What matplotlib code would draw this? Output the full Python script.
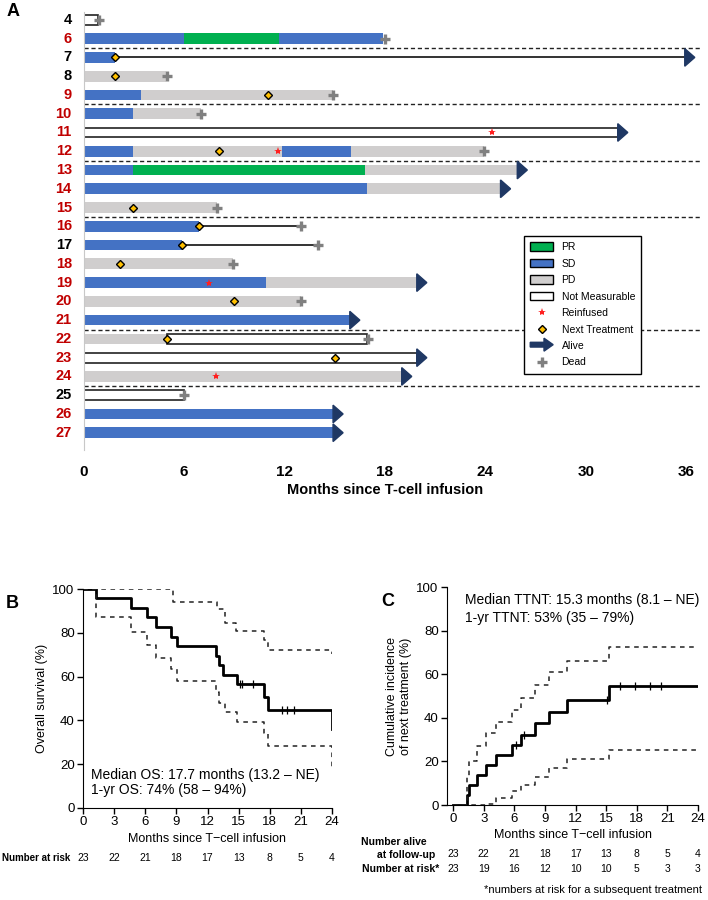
import numpy as np
import matplotlib.pyplot as plt
import matplotlib.patches as mpatches
import matplotlib.transforms as mtransforms
from matplotlib.lines import Line2D
from matplotlib.legend_handler import HandlerPatch

plt.rcParams['font.family'] = ['Liberation Sans', 'DejaVu Sans']

# ---------------- Panel A: swimmer plot data (months) ----------------
patients = ['4', '6', '7', '8', '9', '10', '11', '12', '13', '14', '15', '16',
            '17', '18', '19', '20', '21', '22', '23', '24', '25', '26', '27']
black_ids = ['4', '7', '8', '17', '25']
separators = ['6', '9', '12', '15', '21', '24']

# (patient, start, end, response)
segments = [
    ('4', 0, 0.85, 'NM'),
    ('6', 0, 6.0, 'SD'), ('6', 6.0, 11.7, 'PR'), ('6', 11.7, 17.9, 'SD'),
    ('7', 0, 1.9, 'SD'),
    ('8', 0, 4.9, 'PD'),
    ('9', 0, 3.45, 'SD'), ('9', 3.45, 14.9, 'PD'),
    ('10', 0, 2.95, 'SD'), ('10', 2.95, 7.0, 'PD'),
    ('11', 0, 31.9, 'NM'),
    ('12', 0, 2.95, 'SD'), ('12', 2.95, 11.85, 'PD'), ('12', 11.85, 16.0, 'SD'), ('12', 16.0, 23.9, 'PD'),
    ('13', 0, 2.95, 'SD'), ('13', 2.95, 16.8, 'PR'), ('13', 16.8, 25.9, 'PD'),
    ('14', 0, 16.9, 'SD'), ('14', 16.9, 24.9, 'PD'),
    ('15', 0, 8.0, 'PD'),
    ('16', 0, 6.9, 'SD'),
    ('17', 0, 5.9, 'SD'),
    ('18', 0, 8.9, 'PD'),
    ('19', 0, 10.9, 'SD'), ('19', 10.9, 19.9, 'PD'),
    ('20', 0, 13.0, 'PD'),
    ('21', 0, 15.9, 'SD'),
    ('22', 0, 5.0, 'PD'), ('22', 5.0, 16.9, 'NM'),
    ('23', 0, 19.9, 'NM'),
    ('24', 0, 19.0, 'PD'),
    ('25', 0, 6.0, 'NM'),
    ('26', 0, 14.9, 'SD'),
    ('27', 0, 14.9, 'SD'),
]
followup = [('7', 1.9, 35.9), ('16', 6.9, 13.0), ('17', 5.9, 14.0)]
next_tx = [('7', 1.9), ('8', 1.9), ('9', 11.0), ('12', 8.1), ('15', 2.95), ('16', 6.9),
           ('17', 5.9), ('18', 2.2), ('20', 9.0), ('22', 5.0), ('23', 15.0)]
reinfused = [('11', 24.4), ('12', 11.6), ('19', 7.5), ('24', 7.9)]
dead = [('4', 0.93), ('6', 18.0), ('8', 5.0), ('9', 14.9), ('10', 7.0), ('12', 23.9),
        ('15', 8.0), ('16', 13.0), ('17', 14.0), ('18', 8.9), ('20', 13.0), ('22', 17.0), ('25', 6.0)]
alive = [('7', 35.9), ('11', 31.9), ('13', 25.9), ('14', 24.9), ('19', 19.9), ('21', 15.9),
         ('23', 19.9), ('24', 19.0), ('26', 14.9), ('27', 14.9)]

# ---------------- Panel B: overall survival ----------------
os_t = [0, 1.25, 4.6, 6.2, 7.0, 8.5, 9.1, 12.8, 13.1, 13.5, 14.8, 17.4, 17.8, 24]
os_s = [100, 95.7, 91.3, 87.0, 82.6, 78.3, 73.9, 69.6, 65.2, 60.9, 56.5, 50.8, 44.7, 35.9]
os_up_t = [0, 8.7, 12.9, 13.7, 14.7, 17.4, 17.8, 24]
os_up = [100, 94.2, 90.9, 84.6, 80.8, 76.7, 72.2, 70.2]
os_lo_t = [0, 1.25, 4.6, 6.2, 7.0, 8.5, 9.1, 12.8, 13.1, 13.7, 14.8, 17.4, 17.8, 24]
os_lo = [100, 87.4, 80.5, 74.4, 68.3, 63.3, 58.0, 53.1, 48.1, 44.0, 39.4, 34.1, 28.3, 18.9]
os_cens = [15.1, 15.3, 16.4, 19.2, 19.7, 20.3]
b_risk = [23, 22, 21, 18, 17, 13, 8, 5, 4]

# ---------------- Panel C: time to next treatment ----------------
nt_t = [0, 1.4, 1.6, 2.3, 3.2, 4.2, 5.75, 6.7, 8.0, 9.4, 11.2, 15.3, 24]
nt_c = [0, 4.5, 9.2, 13.8, 18.4, 23.0, 27.4, 32.3, 37.5, 42.6, 48.0, 54.4, 54.4]
nt_up_t = [0, 1.4, 1.6, 2.3, 3.2, 4.2, 5.75, 6.7, 8.0, 9.4, 11.2, 15.3, 24]
nt_up = [0, 13.0, 20.4, 27.0, 33.0, 38.3, 43.7, 49.3, 55.2, 60.8, 66.2, 72.3, 72.3]
nt_lo_t = [0, 3.3, 4.25, 5.75, 6.7, 8.0, 9.4, 11.2, 15.3, 24]
nt_lo = [0, 0.5, 3.2, 6.6, 9.3, 12.7, 17.0, 21.0, 25.4, 25.4]
nt_cens = [6.2, 6.9, 15.1, 16.4, 17.8, 19.25, 20.4]
c_alive = [23, 22, 21, 18, 17, 13, 8, 5, 4]
c_risk = [23, 19, 16, 12, 10, 10, 5, 3, 3]

colors = {'PR': '#00b050', 'SD': '#4472c4', 'PD': '#d0cece', 'NM': 'white'}
navy = '#1f3864'
red = '#c00000'

fig = plt.figure(figsize=(7.08, 9.0), dpi=100)

# ================= Panel A =================
ax = fig.add_axes([83.5 / 708, 0.5, 618 / 708, 438 / 900])
row = {p: i for i, p in enumerate(patients)}
bh = 0.57

for pid, s, e, st in segments:
    if st == 'NM':
        ax.barh(row[pid], e - s, left=s, height=0.52, color='white', edgecolor='#222222', linewidth=1.2, zorder=2)
    else:
        ax.barh(row[pid], e - s, left=s, height=bh, color=colors[st], linewidth=0, zorder=2)

for pid, s, e in followup:
    ax.plot([s, e], [row[pid], row[pid]], color='#333333', lw=1.4, zorder=3)

for pid, x in alive:
    y = row[pid]
    ax.add_patch(mpatches.Polygon([(x, y - 0.47), (x, y + 0.47), (x + 0.6, y)], closed=True,
                                  color=navy, zorder=4))

for pid, x in dead:
    ax.plot(x, row[pid], marker='+', ms=7.5, mew=2.4, color='#808080', zorder=5)

for pid, x in next_tx:
    ax.plot(x, row[pid], marker='D', ms=4.5, mfc='#ffc000', mec='black', mew=1, zorder=6)

for pid, x in reinfused:
    ax.plot(x, row[pid], marker='*', ms=6, color='#ff2020', mew=0, zorder=6)

for pid in separators:
    ax.axhline(row[pid] + 0.5, color='#222222', lw=1, ls=(0, (3, 2)), zorder=1)

for pid in patients:
    ax.text(-0.7, row[pid], pid, ha='right', va='center', fontsize=10.5, fontweight='bold',
            color='black' if pid in black_ids else red)

ax.set_xlim(0, 36.9)
ax.set_ylim(22.92, -0.42)
ax.set_yticks([])
ax.set_xticks(range(0, 37, 6))
ax.tick_params(axis='x', length=0, labelsize=11, pad=11)
for lbl in ax.get_xticklabels():
    lbl.set_fontweight('bold')
for sp in ['top', 'right', 'bottom']:
    ax.spines[sp].set_visible(False)
ax.spines['left'].set_color('#c8c8c8')
ax.set_xlabel('Months since T-cell infusion', fontsize=10.5, fontweight='bold')
ax.xaxis.set_label_coords(18 / 36.9, -0.075)


def make_arrow(legend, orig_handle, xdescent, ydescent, width, height, fontsize):
    return mpatches.FancyArrow(0, height / 2, width, 0, width=height * 0.55, head_width=height * 1.5,
                               head_length=width * 0.4, length_includes_head=True, color=navy)


handles = [
    mpatches.Patch(facecolor=colors['PR'], edgecolor='black', label='PR'),
    mpatches.Patch(facecolor=colors['SD'], edgecolor='black', label='SD'),
    mpatches.Patch(facecolor=colors['PD'], edgecolor='black', label='PD'),
    mpatches.Patch(facecolor='white', edgecolor='black', label='Not Measurable'),
    Line2D([], [], marker='*', ms=6, color='#ff2020', mew=0, ls='none', label='Reinfused'),
    Line2D([], [], marker='D', ms=4.5, mfc='#ffc000', mec='black', ls='none', label='Next Treatment'),
    mpatches.FancyArrow(0, 0, 1, 0, color=navy, label='Alive'),
    Line2D([], [], marker='+', ms=7.5, mew=2.4, color='#808080', ls='none', label='Dead'),
]
leg = fig.legend(handles=handles, loc='upper left', bbox_to_anchor=(524 / 708, 1 - 236 / 900),
                 fontsize=7.5, frameon=True, fancybox=False, edgecolor='black', framealpha=1,
                 handlelength=2.2, handleheight=0.9, labelspacing=0.62, borderpad=0.6,
                 borderaxespad=0,
                 handler_map={mpatches.FancyArrow: HandlerPatch(patch_func=make_arrow)})
leg.get_frame().set_linewidth(1)

fig.text(13 / 708, 1 - 11 / 900, 'A', fontsize=13, fontweight='bold', ha='center', va='center')

# ================= Panel B =================
axb = fig.add_axes([83 / 708, 1 - 808 / 900, 249 / 708, 219 / 900])
axb.step(os_t, os_s, where='post', color='black', lw=2)
axb.step(os_up_t, os_up, where='post', color='#222222', lw=1.1, ls=(0, (3, 3)))
axb.step(os_lo_t, os_lo, where='post', color='#222222', lw=1.1, ls=(0, (3, 3)))
cens_y = [os_s[np.searchsorted(os_t, c, side='right') - 1] for c in os_cens]
axb.plot(os_cens, cens_y, ls='none', marker='|', ms=6, mew=0.9, color='black')
axb.set_xlim(0, 24)
axb.set_ylim(0, 100)
axb.set_xticks(range(0, 25, 3))
axb.set_yticks(range(0, 101, 20))
axb.tick_params(labelsize=9.5, length=4, width=1, pad=2)
for sp in ['top', 'right']:
    axb.spines[sp].set_visible(False)
axb.set_xlabel('Months since T\u2212cell infusion', fontsize=9, labelpad=3)
axb.set_ylabel('Overall survival (%)', fontsize=9, labelpad=3)
axb.text(0.8, 15, 'Median OS: 17.7 months (13.2 \u2013 NE)', fontsize=10, va='center')
axb.text(0.8, 8, '1-yr OS: 74% (58 \u2013 94%)', fontsize=10, va='center')

trb = mtransforms.blended_transform_factory(axb.transData, fig.transFigure)
for x, n in zip(range(0, 25, 3), b_risk):
    axb.text(x, 1 - 858 / 900, str(n), transform=trb, ha='center', va='center', fontsize=7.5)
fig.text(70 / 708, 1 - 858 / 900, 'Number at risk', ha='right', va='center', fontsize=7, fontweight='bold')
fig.text(12 / 708, 1 - 604 / 900, 'B', fontsize=13, fontweight='bold', ha='center', va='center')

# ================= Panel C =================
axc = fig.add_axes([447 / 708, 1 - 805 / 900, 251 / 708, 218 / 900])
axc.step(nt_t, nt_c, where='post', color='black', lw=2)
axc.step(nt_up_t, nt_up, where='post', color='#222222', lw=1.1, ls=(0, (3, 3)))
axc.step(nt_lo_t, nt_lo, where='post', color='#222222', lw=1.1, ls=(0, (3, 3)))
cens_c = [nt_c[np.searchsorted(nt_t, c, side='right') - 1] for c in nt_cens]
axc.plot(nt_cens, cens_c, ls='none', marker='|', ms=6, mew=0.9, color='black')
axc.set_xlim(-0.6, 24)
axc.set_ylim(0, 100)
axc.set_xticks(range(0, 25, 3))
axc.set_yticks(range(0, 101, 20))
axc.tick_params(labelsize=9.5, length=4, width=1, pad=2)
for sp in ['top', 'right']:
    axc.spines[sp].set_visible(False)
axc.set_xlabel('Months since T\u2212cell infusion', fontsize=9, labelpad=3)
axc.set_ylabel('Cumulative incidence\nof next treatment (%)', fontsize=9, labelpad=3)
axc.text(1.2, 94, 'Median TTNT: 15.3 months (8.1 \u2013 NE)', fontsize=10, va='center')
axc.text(1.2, 86, '1-yr TTNT: 53% (35 \u2013 79%)', fontsize=10, va='center')

trc = mtransforms.blended_transform_factory(axc.transData, fig.transFigure)
for x, a, r in zip(range(0, 25, 3), c_alive, c_risk):
    axc.text(x, 1 - 854 / 900, str(a), transform=trc, ha='center', va='center', fontsize=7.5)
    axc.text(x, 1 - 869 / 900, str(r), transform=trc, ha='center', va='center', fontsize=7.5)
fig.text(427 / 708, 1 - 842 / 900, 'Number alive', ha='right', va='center', fontsize=7.5, fontweight='bold')
fig.text(435 / 708, 1 - 855 / 900, 'at follow-up', ha='right', va='center', fontsize=7.5, fontweight='bold')
fig.text(439 / 708, 1 - 869 / 900, 'Number at risk*', ha='right', va='center', fontsize=7.5, fontweight='bold')
fig.text(702 / 708, 1 - 890 / 900, '*numbers at risk for a subsequent treatment', ha='right', va='center', fontsize=8)
fig.text(388 / 708, 1 - 601 / 900, 'C', fontsize=13, fontweight='bold', ha='center', va='center')

fig.savefig('out.png', dpi=100)
